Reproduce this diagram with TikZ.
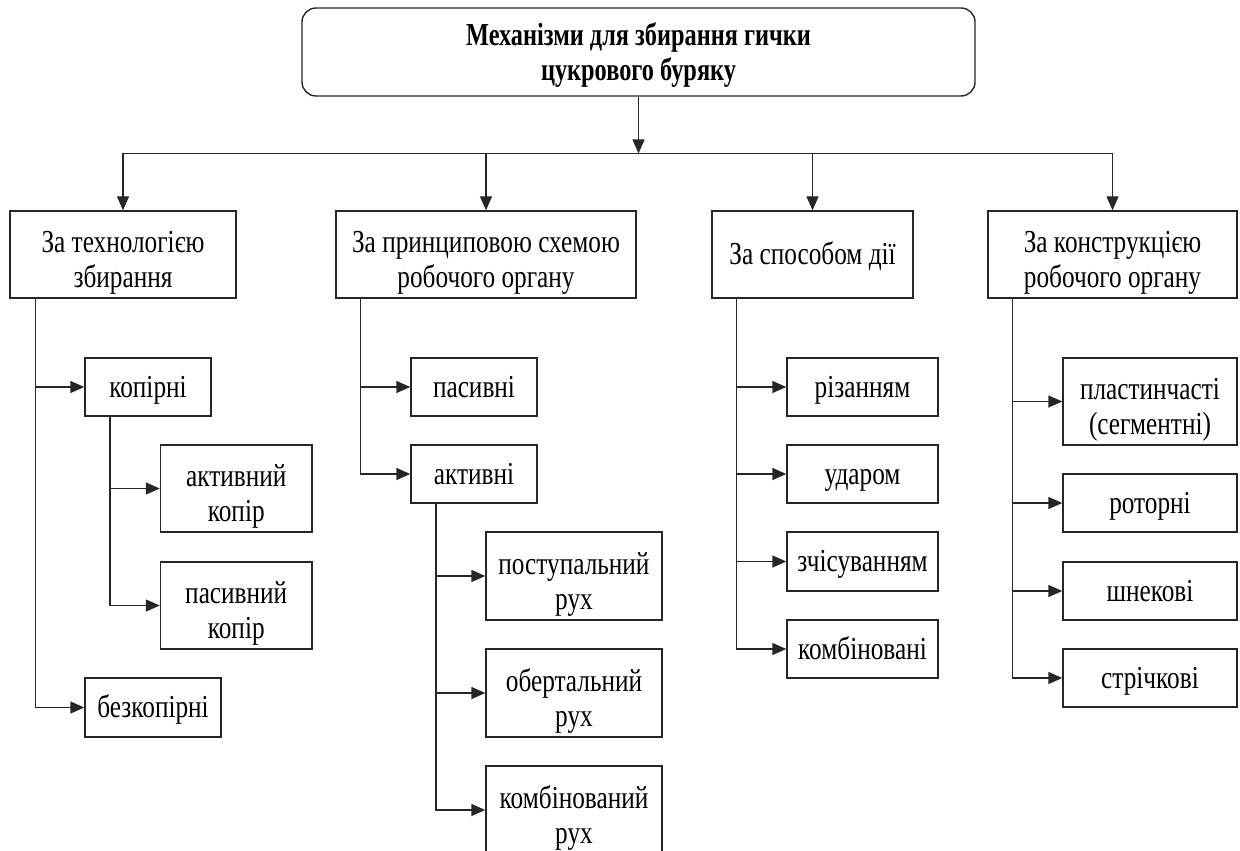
\documentclass[tikz,border=0pt]{standalone}
\usepackage{fontspec}
\setmainfont[FakeStretch=0.79]{Liberation Serif}
\newfontfamily\titlefont[FakeStretch=0.76]{Liberation Serif}
\usetikzlibrary{arrows.meta}
\begin{document}
\begin{tikzpicture}[x=0.5pt,y=-0.5pt,
  base/.style={draw=black!85,line width=0.7pt,inner sep=0pt,align=center,font=\fontsize{16pt}{17.5pt}\selectfont},
  onebox/.style={base,text height=13.5pt,text depth=3.5pt},
  twobox/.style={base,text height=36.5pt,text depth=3.5pt},
  titlebox/.style={draw=black!85,line width=0.7pt,inner sep=0pt,align=center,rounded corners=7pt,
    font=\titlefont\fontsize{16pt}{17.5pt}\selectfont\bfseries,text height=32pt,text depth=3.5pt},
  arr/.style={draw=black!85,line width=0.7pt,-{Triangle[length=7pt,width=6pt]}},
  ln/.style={draw=black!85,line width=0.7pt}]
\useasboundingbox (0,0) rectangle (1240,850);
\clip (0,0) rectangle (1240,850);
% top
\node[titlebox,minimum width=336.5pt,minimum height=44pt] (title) at (638.5,52) {Механізми для збирання гички\\цукрового буряку};
% level 1
\node[twobox,minimum width=113pt,minimum height=43.5pt] (b1) at (123,254.5) {За технологією\\збирання};
\node[twobox,minimum width=150pt,minimum height=43.5pt] (b2) at (486,254.5) {За принциповою схемою\\робочого органу};
\node[onebox,minimum width=100.5pt,minimum height=43.5pt] (b3) at (812.5,254.5) {За способом дії};
\node[twobox,minimum width=124.5pt,minimum height=43.5pt] (b4) at (1112.5,254.5) {За конструкцією\\робочого органу};
% column 1
\node[onebox,minimum width=63pt,minimum height=29pt] (kop) at (148,387) {копірні};
\node[twobox,minimum width=75.75pt,minimum height=43.5pt] (aktkop) at (236.25,488.5) {активний\\копір};
\node[twobox,minimum width=75.75pt,minimum height=43.5pt] (paskop) at (236.25,605.5) {пасивний\\копір};
\node[onebox,minimum width=68pt,minimum height=29.5pt] (bezkop) at (153,707.5) {безкопірні};
% column 2
\node[onebox,minimum width=63pt,minimum height=29pt] (pas) at (474,387) {пасивні};
\node[onebox,minimum width=63pt,minimum height=29pt] (akt) at (474,474) {активні};
\node[twobox,minimum width=88pt,minimum height=44pt] (post) at (574,576) {поступальний\\рух};
\node[twobox,minimum width=88pt,minimum height=44pt] (obert) at (574,693) {обертальний\\рух};
\node[twobox,minimum width=88pt,minimum height=44pt] (kombr) at (574,810) {комбінований\\рух};
% column 3
\node[onebox,minimum width=75.5pt,minimum height=29pt] (riz) at (862.5,387) {різанням};
\node[onebox,minimum width=75.5pt,minimum height=29pt] (udar) at (862.5,474) {ударом};
\node[onebox,minimum width=75.5pt,minimum height=29.5pt] (zchis) at (862.5,561.5) {зчісуванням};
\node[onebox,minimum width=75.5pt,minimum height=29pt] (kombi) at (862.5,649) {комбіновані};
% column 4
\node[twobox,minimum width=87pt,minimum height=43.5pt] (plast) at (1150,401.5) {пластинчасті\\(сегментні)};
\node[onebox,minimum width=87pt,minimum height=29pt] (rotor) at (1150,503) {роторні};
\node[onebox,minimum width=87pt,minimum height=29pt] (shnek) at (1150,591) {шнекові};
\node[onebox,minimum width=87pt,minimum height=29pt] (strich) at (1150,678) {стрічкові};
% bus
\coordinate (bus) at (637,153.5);
\draw[arr] (title.south) -- (title.south |- bus);
\draw[ln] (b1.north |- bus) -- (b4.north |- bus);
\foreach \b in {b1,b2,b3,b4} \draw[arr] (\b.north |- bus) -- (\b.north);
% branches
\foreach \t in {kop,bezkop} \draw[arr] ([xshift=13pt]b1.south west) |- (\t.west);
\foreach \t in {aktkop,paskop} \draw[arr] ([xshift=12.75pt]kop.south west) |- (\t.west);
\foreach \t in {pas,akt} \draw[arr] ([xshift=12.5pt]b2.south west) |- (\t.west);
\foreach \t in {post,obert,kombr} \draw[arr] ([xshift=12.75pt]akt.south west) |- (\t.west);
\foreach \t in {riz,udar,zchis,kombi} \draw[arr] ([xshift=12.5pt]b3.south west) |- (\t.west);
\foreach \t in {plast,rotor,shnek,strich} \draw[arr] ([xshift=12.5pt]b4.south west) |- (\t.west);
\end{tikzpicture}
\end{document}
